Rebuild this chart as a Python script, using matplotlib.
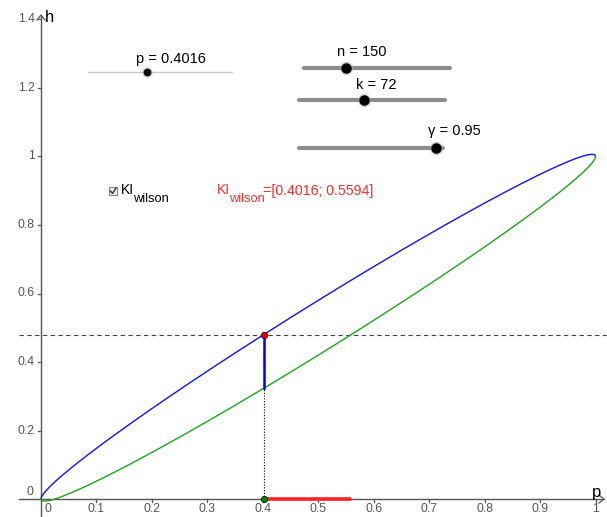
import numpy as np
import matplotlib
matplotlib.use("Agg")
import matplotlib.pyplot as plt
from matplotlib.lines import Line2D

plt.rcParams['font.family'] = ['Liberation Sans', 'DejaVu Sans']

# ---- data / parameters ----
n = 150
k = 72
gamma = 0.95
z = 1.959964          # two-sided quantile for gamma = 0.95
p_val = 0.4016
ci_low = 0.4016
ci_high = 0.5594
h_obs = k / n          # 0.48

x_ticks = [0, 0.1, 0.2, 0.3, 0.4, 0.5, 0.6, 0.7, 0.8, 0.9, 1]
x_tick_labels = ["0", "0.1", "0.2", "0.3", "0.4", "0.5", "0.6", "0.7", "0.8", "0.9", "1"]
y_ticks = [0.2, 0.4, 0.6, 0.8, 1, 1.2, 1.4]
y_tick_labels = ["0.2", "0.4", "0.6", "0.8", "1", "1.2", "1.4"]

# ---- figure ----
W, H = 607, 517
fig = plt.figure(figsize=(W / 100, H / 100), dpi=100)
ax = fig.add_axes([0, 0, 1, 1])
ax.set_axis_off()

X0, SX, Y0, SY = 41.0, 554.5, 499.0, 342.5
ax.set_xlim(-X0 / SX, (W - X0) / SX)
ax.set_ylim(-(H - Y0) / SY, Y0 / SY)


def fx(px):
    return px / W


def fy(py):
    return 1 - py / H

axis_col = '#555555'
lab_col = '#555555'

# axes lines
ax.plot([(19 - X0) / SX, (604 - X0) / SX], [0, 0], color=axis_col, lw=1.0, zorder=2)
ax.plot([0, 0], [-(H - Y0) / SY, (Y0 - 15) / SY], color=axis_col, lw=1.0, zorder=2)
# arrow heads
ax.plot([(599 - X0) / SX, (604 - X0) / SX, (599 - X0) / SX],
        [4 / SY, 0, -4 / SY], color=axis_col, lw=0.9)
ax.plot([-4 / SX, 0, 4 / SX],
        [(Y0 - 20) / SY, (Y0 - 15) / SY, (Y0 - 20) / SY], color=axis_col, lw=0.9)

# ticks
for xt, lab in zip(x_ticks, x_tick_labels):
    if xt != 0:
        ax.plot([xt, xt], [0, -3 / SY], color=axis_col, lw=0.9)
    ax.text(xt + (7 / SX if xt == 0 else 0), -9.5 / SY, lab, ha='center', va='center',
            fontsize=8.8, color=lab_col)
for yt, lab in zip(y_ticks, y_tick_labels):
    ax.plot([-3 / SX, 0], [yt, yt], color=axis_col, lw=0.9)
    ax.text(-6 / SX, yt, lab, ha='right', va='center', fontsize=8.8, color=lab_col)
ax.text(-8 / SX, 7 / SY, "0", ha='right', va='center', fontsize=8.8, color=lab_col)

ax.text(4 / SX, (Y0 - 18) / SY, "h", ha='left', va='center', fontsize=12, color='black')
ax.text((597 - X0) / SX, 7 / SY, "p", ha='center', va='center', fontsize=12, color='black')

# Wilson ellipse curves
t = np.linspace(0, np.pi, 2001)
pp = (1 - np.cos(t)) / 2
half = z * np.sqrt(pp * (1 - pp) / n)
ax.plot(pp, pp + half, color='#1010ff', lw=1.0, zorder=3)
ax.plot(pp, pp - half, color='#1aa51a', lw=1.0, zorder=3)

# horizontal dashed line at h = k/n
ax.plot([(19 - X0) / SX, (W - X0) / SX], [h_obs, h_obs], color='#444444', lw=0.8,
        dashes=(4, 3), zorder=2)
# vertical dotted line
ax.plot([p_val, p_val], [0, h_obs], color='black', lw=0.8, dashes=(1, 1.5), zorder=2)
# blue vertical segment
lower_at_p = p_val - z * np.sqrt(p_val * (1 - p_val) / n)
ax.plot([p_val, p_val], [lower_at_p, h_obs], color='#0000ee', lw=1.8, zorder=4)
# red interval on x axis
ax.plot([ci_low, ci_high], [0, 0], color='#ff2020', lw=2.6, solid_capstyle='butt', zorder=4)
# points
ax.plot([p_val], [h_obs], 'o', ms=4.5, mfc='#ee0000', mec='#550000', mew=0.7, zorder=5)
ax.plot([p_val], [0], 'o', ms=4.5, mfc='#008800', mec='#003300', mew=0.7, zorder=5)

# ---- sliders (in figure pixel coordinates) ----
def slider(x1, x2, y, xp, label, lx, ly, lw=3.0, col='#8c8c8c', ms=6.5, halo=True):
    fig.add_artist(Line2D([fx(x1), fx(x2)], [fy(y), fy(y)], color=col, lw=lw,
                          solid_capstyle='round', transform=fig.transFigure))
    if halo:
        fig.add_artist(Line2D([fx(xp)], [fy(y)], marker='o', ms=ms + 3, mfc='#b0b0b0',
                              mec='none', alpha=0.6, transform=fig.transFigure))
    fig.add_artist(Line2D([fx(xp)], [fy(y)], marker='o', ms=ms, mfc='black', mec='black',
                          transform=fig.transFigure))
    fig.text(fx(lx), fy(ly), label, ha='center', va='center', fontsize=10.5, color='black')

slider(88, 232, 71.5, 147, "p = 0.4016", 171, 59, lw=1.0, col='#c8c8c8', ms=4.5, halo=True)
slider(304, 450, 67.5, 346, "n = " + str(n), 362, 52)
slider(299, 445, 100, 364, "k = " + str(k), 376, 85)
slider(299, 443, 147.5, 436, "γ = " + str(gamma), 454, 131)

# checkbox + labels
fig.add_artist(plt.Rectangle((fx(108.5), fy(195)), 8 / W, 8 / H, fill=True,
                             fc='#eeeeee', ec='#888888', lw=0.8, transform=fig.transFigure))
fig.add_artist(Line2D([fx(110.5), fx(112.5), fx(116)], [fy(191), fy(193.5), fy(188)],
                      color='#333333', lw=1.0, transform=fig.transFigure))
fig.text(fx(120.5), fy(193.5), "KI", ha='left', va='baseline', fontsize=10, color='black')
fig.text(fx(133), fy(201.5), "wilson", ha='left', va='baseline', fontsize=9.3, color='black')

red = '#ff2a2a'
fig.text(fx(216.5), fy(194.5), "KI", ha='left', va='baseline', fontsize=10, color=red)
fig.text(fx(229), fy(202), "wilson", ha='left', va='baseline', fontsize=9.3, color=red)
fig.text(fx(263), fy(194.5), "=[0.4016; 0.5594]", ha='left', va='baseline', fontsize=10.2,
         color=red)

fig.savefig("out.png", dpi=100)
